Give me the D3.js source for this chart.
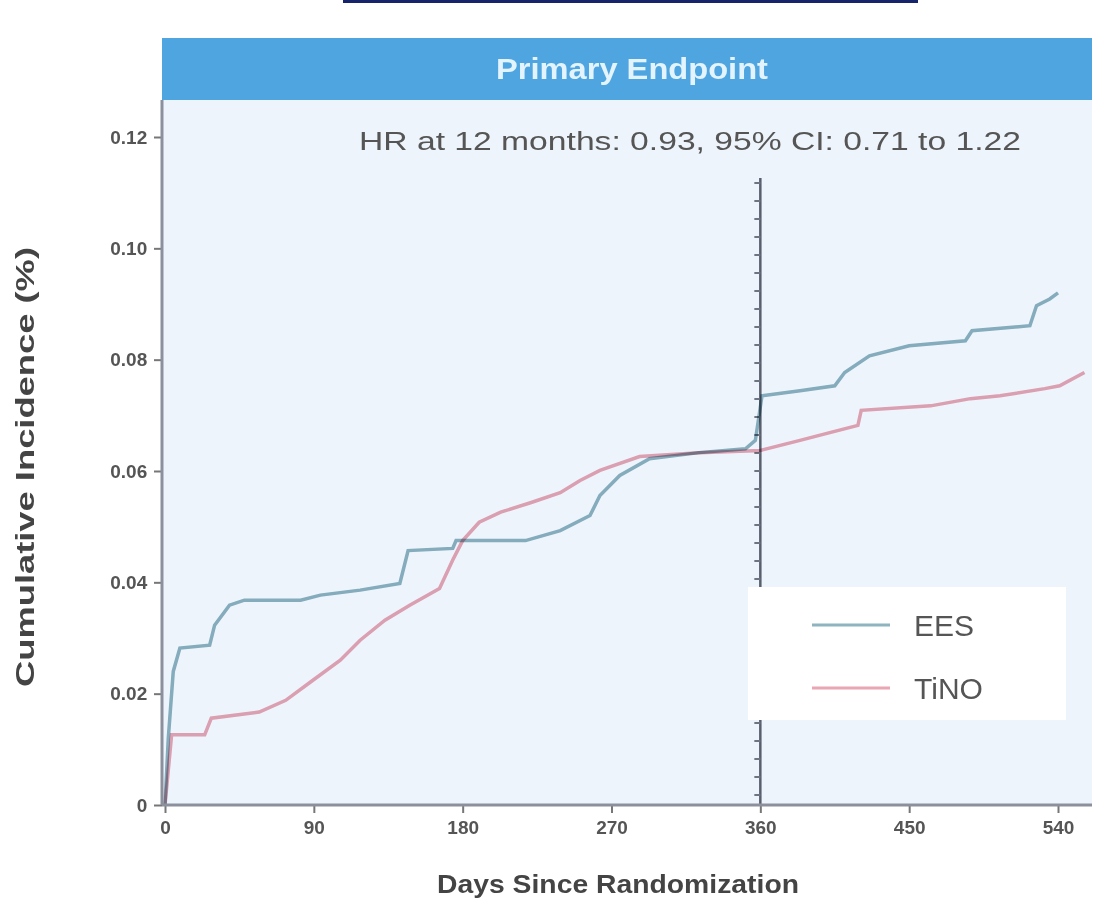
<!DOCTYPE html>
<html>
<head>
<meta charset="utf-8">
<script src="https://cdn.jsdelivr.net/npm/d3@7"></script>
<style>
  body { margin: 0; background: #fff; }
  svg text { font-family: "Liberation Sans", Arial, sans-serif; }
</style>
</head>
<body>
<div id="main"></div>
<script>
var width = 1104;
var height = 905;

// days since randomization and cumulative incidence
var eesDays = [0, 2, 5, 9, 27, 30, 39, 48, 82, 94, 118, 142, 147, 174, 176, 218, 239, 257, 263, 275, 293, 323, 351, 357, 361, 384, 405, 411, 426, 450, 484, 488, 523, 527, 535, 540];
var eesValues = [0, 0.012, 0.024, 0.0282, 0.0287, 0.0323, 0.0359, 0.0368, 0.0368, 0.0377, 0.0386, 0.0398, 0.0457, 0.0461, 0.0475, 0.0475, 0.0493, 0.052, 0.0556, 0.0592, 0.0622, 0.0633, 0.064, 0.0655, 0.0735, 0.0744, 0.0753, 0.0777, 0.0807, 0.0825, 0.0834, 0.0852, 0.0861, 0.0897, 0.0909, 0.092];

var tinoDays = [0, 4, 24, 28, 57, 73, 88, 106, 118, 133, 148, 166, 174, 180, 190, 203, 221, 239, 251, 263, 287, 323, 360, 384, 402, 419, 421, 463, 487, 505, 532, 541, 556];
var tinoValues = [0, 0.0126, 0.0126, 0.0156, 0.0167, 0.0188, 0.0221, 0.026, 0.0296, 0.0332, 0.0359, 0.0389, 0.044, 0.0475, 0.0508, 0.0526, 0.0543, 0.0561, 0.0583, 0.0601, 0.0626, 0.0633, 0.0637, 0.0655, 0.0669, 0.0682, 0.0709, 0.0717, 0.073, 0.0735, 0.0748, 0.0753, 0.0777];

var xTicks = [0, 90, 180, 270, 360, 450, 540];
var yTicks = [0, 0.02, 0.04, 0.06, 0.08, 0.1, 0.12];
var yTickLabels = ['0', '0.02', '0.04', '0.06', '0.08', '0.10', '0.12'];
var seriesNames = ['EES', 'TiNO'];
var seriesColors = ['#8db4bf', '#eaa6b3'];
var landmarkDay = 360;

var plot = {l: 162, r: 1092, t: 100, b: 805};

var svg = d3.select('#main').append('svg')
    .attr('width', width)
    .attr('height', height);

var xScale = d3.scaleLinear().domain([0, 540]).range([165, 1058]);
var yScale = d3.scaleLinear().domain([0, 0.12]).range([805, 137]);

// thin rule at the very top
svg.append('line')
    .attr('x1', 343).attr('x2', 918)
    .attr('y1', 1.5).attr('y2', 1.5)
    .style('stroke', '#16256b')
    .style('stroke-width', 3);

// header band
svg.append('rect')
    .attr('x', plot.l).attr('y', 38)
    .attr('width', plot.r - plot.l).attr('height', plot.t - 38)
    .style('fill', '#4ea5df');

svg.append('text')
    .attr('x', 632).attr('y', 79)
    .attr('text-anchor', 'middle')
    .attr('textLength', 272)
    .attr('lengthAdjust', 'spacingAndGlyphs')
    .style('font-size', '30px')
    .style('font-weight', 'bold')
    .style('fill', '#e3f4ff')
    .text('Primary Endpoint');

// plot background
svg.append('rect')
    .attr('x', plot.l).attr('y', plot.t)
    .attr('width', plot.r - plot.l).attr('height', plot.b - plot.t)
    .style('fill', '#eef4fb');

svg.append('text')
    .attr('x', 690).attr('y', 150)
    .attr('text-anchor', 'middle')
    .attr('textLength', 662)
    .attr('lengthAdjust', 'spacingAndGlyphs')
    .style('font-size', '25px')
    .style('fill', '#555')
    .text('HR at 12 months: 0.93, 95% CI: 0.71 to 1.22');

// landmark line at 12 months
svg.append('line')
    .attr('x1', xScale(landmarkDay)).attr('x2', xScale(landmarkDay))
    .attr('y1', 178).attr('y2', plot.b)
    .style('stroke', '#5a5f6e')
    .style('stroke-width', 2.5);

svg.append('line')
    .attr('x1', xScale(landmarkDay) - 3).attr('x2', xScale(landmarkDay) - 3)
    .attr('y1', 182).attr('y2', plot.b)
    .style('stroke', '#6f7483')
    .style('stroke-width', 6)
    .style('stroke-dasharray', '2 16');

// curves
var line = d3.line()
    .x(function(d) { return xScale(d[0]); })
    .y(function(d) { return yScale(d[1]); });

var series = [
    d3.zip(eesDays, eesValues),
    d3.zip(tinoDays, tinoValues)
];

svg.selectAll('.curve')
    .data(series)
    .enter()
    .append('path')
    .attr('class', 'curve')
    .attr('d', line)
    .style('fill', 'none')
    .style('stroke', function(d, i) { return seriesColors[i]; })
    .style('stroke-width', 3.5)
    .style('mix-blend-mode', 'multiply');

// axes
var xAxis = d3.axisBottom(xScale).tickValues(xTicks).tickSize(8).tickSizeOuter(0);
var yAxis = d3.axisLeft(yScale).tickValues(yTicks).tickSize(8).tickSizeOuter(0)
    .tickFormat(function(d, i) { return yTickLabels[i]; });

var gx = svg.append('g')
    .attr('transform', `translate(0, ${plot.b})`)
    .call(xAxis);

var gy = svg.append('g')
    .attr('transform', `translate(${plot.l}, 0)`)
    .call(yAxis);

[gx, gy].forEach(function(g) {
    g.select('.domain').remove();
    g.selectAll('.tick line').style('stroke', '#777').style('stroke-width', 2);
    g.selectAll('.tick text')
        .style('font-size', '19px')
        .style('font-weight', 'bold')
        .style('fill', '#555');
});
gx.selectAll('.tick text').attr('dy', '0.95em');
gy.selectAll('.tick text').attr('dx', '-0.2em');

svg.append('line')
    .attr('x1', plot.l).attr('x2', plot.r)
    .attr('y1', plot.b).attr('y2', plot.b)
    .style('stroke', '#8c909d')
    .style('stroke-width', 3);

svg.append('line')
    .attr('x1', plot.l).attr('x2', plot.l)
    .attr('y1', plot.t).attr('y2', plot.b)
    .style('stroke', '#8c909d')
    .style('stroke-width', 3);

// axis titles
svg.append('text')
    .attr('x', 618).attr('y', 893)
    .attr('text-anchor', 'middle')
    .attr('textLength', 362)
    .attr('lengthAdjust', 'spacingAndGlyphs')
    .style('font-size', '26px')
    .style('font-weight', 'bold')
    .style('fill', '#444')
    .text('Days Since Randomization');

svg.append('text')
    .attr('transform', 'translate(34, 467) rotate(-90)')
    .attr('text-anchor', 'middle')
    .attr('textLength', 440)
    .attr('lengthAdjust', 'spacingAndGlyphs')
    .style('font-size', '25px')
    .style('font-weight', 'bold')
    .style('fill', '#444')
    .text('Cumulative Incidence (%)');

// legend
var legend = svg.append('g').attr('transform', 'translate(748, 587)');

legend.append('rect')
    .attr('width', 318).attr('height', 133)
    .style('fill', '#fff');

var legendItems = legend.selectAll('.item')
    .data(seriesNames)
    .enter()
    .append('g')
    .attr('class', 'item')
    .attr('transform', function(d, i) { return `translate(0, ${38 + i * 63})`; });

legendItems.append('line')
    .attr('x1', 64).attr('x2', 142)
    .style('stroke', function(d, i) { return seriesColors[i]; })
    .style('stroke-width', 3);

legendItems.append('text')
    .attr('x', 166).attr('y', 11)
    .style('font-size', '30px')
    .style('fill', '#555')
    .text(function(d) { return d; });
</script>
</body>
</html>
